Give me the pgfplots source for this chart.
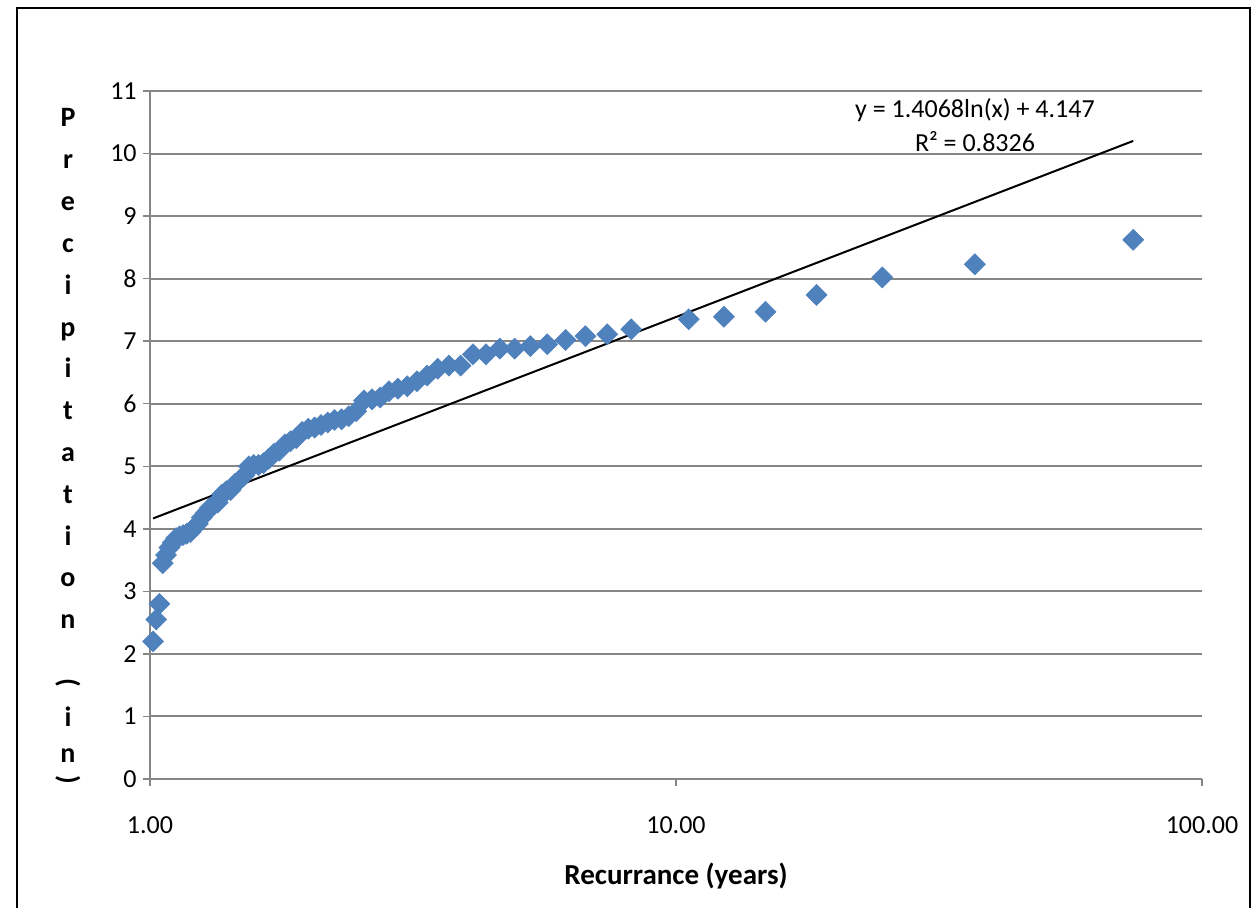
\documentclass[border=0pt]{standalone}
\usepackage{fontspec}
\setmainfont{Carlito}
\usepackage{graphicx}
\usepackage{pgfplots}
\pgfplotsset{compat=1.18}
\definecolor{exblue}{RGB}{79,129,189}
\definecolor{gridgray}{RGB}{134,134,134}
\pgfplotstableread{
x y
74 8.62
37 8.23
24.667 8.02
18.5 7.74
14.8 7.47
12.333 7.39
10.571 7.35
8.2222 7.19
7.4 7.11
6.7273 7.08
6.1667 7.02
5.6923 6.95
5.2857 6.92
4.9333 6.88
4.625 6.88
4.3529 6.79
4.1111 6.79
3.8947 6.61
3.7 6.61
3.5238 6.56
3.3636 6.45
3.2174 6.36
3.0833 6.28
2.96 6.24
2.8462 6.20
2.7407 6.10
2.6429 6.07
2.5517 6.05
2.4667 5.88
2.3871 5.80
2.3125 5.75
2.2424 5.74
2.1765 5.70
2.1143 5.66
2.0556 5.62
2.0 5.60
1.9474 5.55
1.8974 5.45
1.85 5.40
1.8049 5.35
1.7619 5.25
1.7209 5.20
1.6818 5.12
1.6444 5.05
1.6087 5.02
1.5745 5.02
1.5417 5.00
1.5102 4.85
1.48 4.78
1.451 4.72
1.4231 4.62
1.3962 4.60
1.3704 4.55
1.3455 4.42
1.3214 4.38
1.2982 4.33
1.2759 4.25
1.2542 4.18
1.2333 4.08
1.2131 4.02
1.1935 3.95
1.1746 3.92
1.1563 3.90
1.1385 3.88
1.1212 3.85
1.1045 3.78
1.0882 3.70
1.0725 3.58
1.0571 3.45
1.0423 2.80
1.0278 2.55
1.0137 2.20
}\datatable
\begin{document}
\begin{tikzpicture}
\useasboundingbox (0,0) rectangle (628.5pt,453.5pt);
\draw[line width=1pt] (8.5pt,-20pt) -- (8.5pt,449.5pt) -- (625pt,449.5pt) -- (625pt,-20pt);
\begin{axis}[
 at={(75pt,64pt)}, anchor=south west, scale only axis, width=526pt, height=344pt,
 xmode=log, xmin=1, xmax=100, ymin=0, ymax=11,
 xtick={1,10,100}, xticklabels={1.00,10.00,100.00}, xminorticks=false,
 ytick={0,1,2,3,4,5,6,7,8,9,10,11},
 axis lines*=left, axis line style={gridgray, line width=1pt},
 ymajorgrids, grid style={gridgray, line width=1pt},
 tick align=outside, major tick length=3.5pt, tick style={gridgray, line width=0.7pt},
 /pgf/number format/assume math mode=true,
 ticklabel style={font=\fontsize{13pt}{15pt}\selectfont, inner sep=0pt},
 xticklabel style={anchor=north, yshift=-15pt},
 yticklabel style={anchor=east, xshift=-3pt},
 clip=false,
]
\addplot[only marks, mark=square*, mark size=3.7pt,
  mark options={rotate=45, fill=exblue, draw=exblue, line width=0.3pt}] table[x=x,y=y] {\datatable};
\addplot[black, line width=1pt] coordinates {(1.0137,4.1661) (74,10.2019)};
\end{axis}
\node[font=\bfseries\fontsize{14.5pt}{17pt}\selectfont] at (338pt,15.5pt) {Recurrance (years)};
\node[font=\fontsize{13pt}{15pt}\selectfont] at (487.5pt,398.5pt) {y = 1.4068ln(x) + 4.147};
\node[font=\fontsize{13pt}{15pt}\selectfont] at (487.5pt,382.5pt) {R² = 0.8326};
\foreach \ch [count=\k from 0] in {P,r,e,c,i,p,i,t,a,t,i,o,n}
  \node[anchor=base, inner sep=0pt, font=\bfseries\fontsize{14pt}{17pt}\selectfont] at (34pt,{390pt-20.9pt*\k}) {\ch};
\node[inner sep=0pt, font=\bfseries\fontsize{14pt}{17pt}\selectfont] at (34pt,112pt) {\rotatebox{-90}{(}};
\node[anchor=base, inner sep=0pt, font=\bfseries\fontsize{14pt}{17pt}\selectfont] at (34pt,90.5pt) {i};
\node[anchor=base, inner sep=0pt, font=\bfseries\fontsize{14pt}{17pt}\selectfont] at (34pt,72.5pt) {n};
\node[inner sep=0pt, font=\bfseries\fontsize{14pt}{17pt}\selectfont] at (34pt,63.5pt) {\rotatebox{-90}{)}};
\end{tikzpicture}
\end{document}
